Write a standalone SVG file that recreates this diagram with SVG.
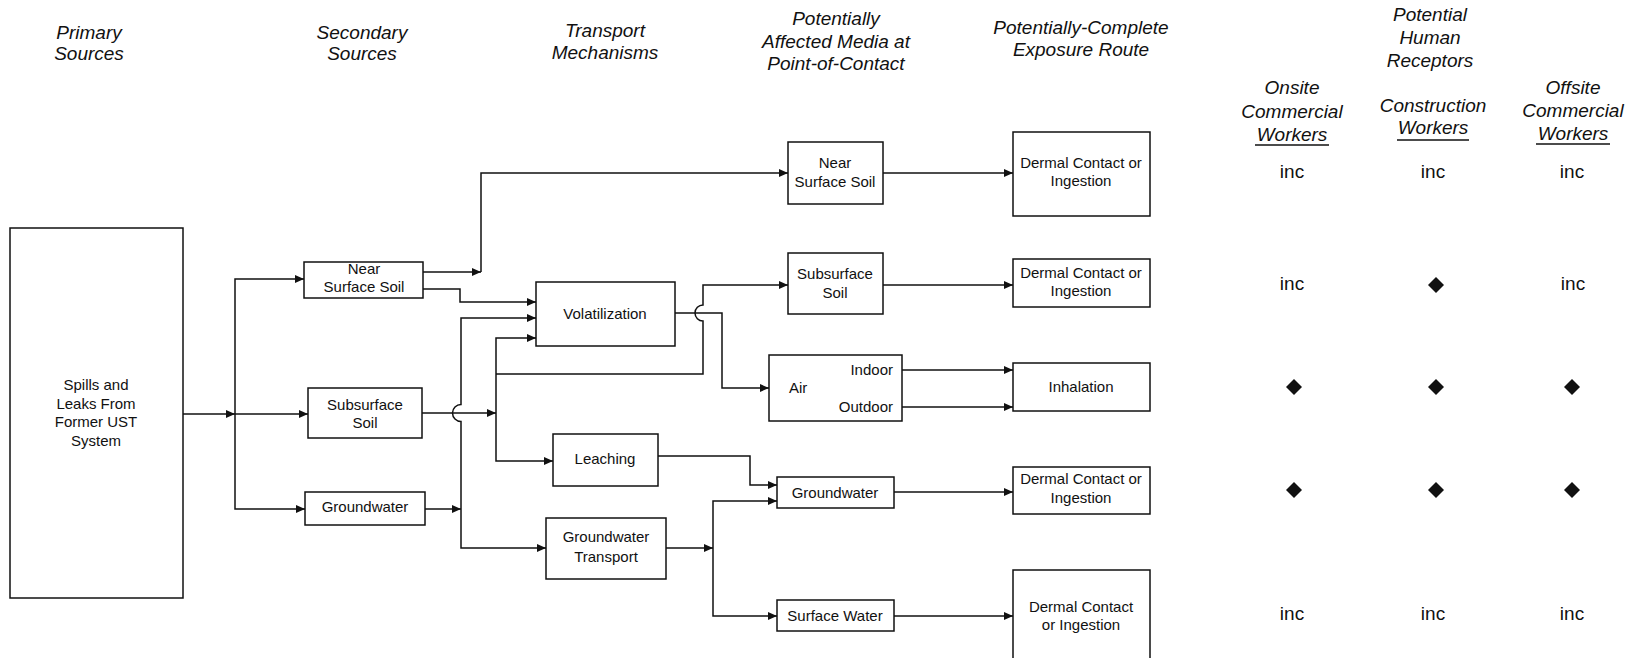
<svg xmlns="http://www.w3.org/2000/svg" xmlns:xlink="http://www.w3.org/1999/xlink" width="1631" height="658" viewBox="0 0 1631 658">
<defs>
<style>
.b{fill:#fff;stroke:#111;stroke-width:1.5}
.t{font-family:"Liberation Sans",Arial,sans-serif;font-size:15px;fill:#111;text-anchor:middle}
.h{font-family:"Liberation Sans",Arial,sans-serif;font-size:19px;font-style:italic;fill:#111;text-anchor:middle}
.i{font-family:"Liberation Sans",Arial,sans-serif;font-size:19px;fill:#111;text-anchor:middle}
.c{fill:none;stroke:#111;stroke-width:1.5}
.a{marker-end:url(#ar)}
.u{stroke:#111;stroke-width:1.3}
</style>
<marker id="ar" markerUnits="userSpaceOnUse" markerWidth="10" markerHeight="8" refX="9" refY="4" orient="auto">
<path d="M0,0 L9,4 L0,8 z" fill="#111"/>
</marker>
<polygon id="dm" points="0,-8 8,0 0,8 -8,0" fill="#111"/>
</defs>
<rect width="1631" height="658" fill="#fff"/>

<g id="headers">
<text class="h" x="89" y="39">Primary</text>
<text class="h" x="89" y="60">Sources</text>
<text class="h" x="362" y="39">Secondary</text>
<text class="h" x="362" y="60">Sources</text>
<text class="h" x="605" y="37">Transport</text>
<text class="h" x="605" y="59">Mechanisms</text>
<text class="h" x="836" y="25">Potentially</text>
<text class="h" x="836" y="48">Affected Media at</text>
<text class="h" x="836" y="70">Point-of-Contact</text>
<text class="h" x="1081" y="34">Potentially-Complete</text>
<text class="h" x="1081" y="56">Exposure Route</text>
<text class="h" x="1430" y="21">Potential</text>
<text class="h" x="1430" y="44">Human</text>
<text class="h" x="1430" y="67">Receptors</text>
<text class="h" x="1292" y="94">Onsite</text>
<text class="h" x="1292" y="118">Commercial</text>
<text class="h" x="1292" y="141">Workers</text>
<line class="u" x1="1255" y1="145" x2="1329" y2="145"/>
<text class="h" x="1433" y="112">Construction</text>
<text class="h" x="1433" y="134">Workers</text>
<line class="u" x1="1397" y1="140" x2="1469" y2="140"/>
<text class="h" x="1573" y="94">Offsite</text>
<text class="h" x="1573" y="117">Commercial</text>
<text class="h" x="1573" y="140">Workers</text>
<line class="u" x1="1536" y1="144" x2="1610" y2="144"/>
</g>

<g id="connectors" class="c">
<path class="a" d="M183,414 H235"/>
<path class="a" d="M235,414 H308"/>
<path class="a" d="M235,414 V279 H304"/>
<path class="a" d="M235,414 V509 H305"/>
<path class="a" d="M423,272 H481"/>
<path class="a" d="M481,272 V173 H788"/>
<path class="a" d="M423,289 H460 V302 H536"/>
<path class="a" d="M422,413 H496"/>
<path class="a" d="M425,509 H461"/>
<path class="a" d="M461,509 V421.5 A8.5,8.5 0 0 1 461,404.5 V318 H536"/>
<path class="a" d="M461,509 V548 H546"/>
<path class="a" d="M496,413 V338 H536"/>
<path class="a" d="M496,413 V461 H553"/>
<path class="a" d="M496,374 H703 V321 A8,8 0 0 1 703,305 V285 H788"/>
<path class="a" d="M675,313 H722 V388 H769"/>
<path class="a" d="M658,456 H750 V485 H777"/>
<path class="a" d="M666,548 H713"/>
<path class="a" d="M713,548 V501 H777"/>
<path class="a" d="M713,548 V616 H777"/>
<path class="a" d="M883,173 H1013"/>
<path class="a" d="M883,285 H1013"/>
<path class="a" d="M902,370 H1013"/>
<path class="a" d="M902,407 H1013"/>
<path class="a" d="M894,492 H1013"/>
<path class="a" d="M894,616 H1013"/>
</g>

<g id="primary">
<rect class="b" x="10" y="228" width="173" height="370"/>
<text class="t" x="96" y="390">Spills and</text>
<text class="t" x="96" y="409">Leaks From</text>
<text class="t" x="96" y="427">Former UST</text>
<text class="t" x="96" y="446">System</text>
</g>
<g id="sec-near-surface-soil">
<rect class="b" x="304" y="262" width="119" height="36"/>
<text class="t" x="364" y="274">Near</text>
<text class="t" x="364" y="292">Surface Soil</text>
</g>
<g id="sec-subsurface-soil">
<rect class="b" x="308" y="388" width="114" height="50"/>
<text class="t" x="365" y="410">Subsurface</text>
<text class="t" x="365" y="428">Soil</text>
</g>
<g id="sec-groundwater">
<rect class="b" x="305" y="492" width="120" height="33"/>
<text class="t" x="365" y="512">Groundwater</text>
</g>
<g id="volatilization">
<rect class="b" x="536" y="282" width="139" height="64"/>
<text class="t" x="605" y="319">Volatilization</text>
</g>
<g id="leaching">
<rect class="b" x="553" y="434" width="105" height="52"/>
<text class="t" x="605" y="464">Leaching</text>
</g>
<g id="groundwater-transport">
<rect class="b" x="546" y="518" width="120" height="61"/>
<text class="t" x="606" y="542">Groundwater</text>
<text class="t" x="606" y="562">Transport</text>
</g>
<g id="med-near-surface-soil">
<rect class="b" x="788" y="142" width="95" height="62"/>
<text class="t" x="835" y="168">Near</text>
<text class="t" x="835" y="187">Surface Soil</text>
</g>
<g id="med-subsurface-soil">
<rect class="b" x="788" y="253" width="95" height="61"/>
<text class="t" x="835" y="279">Subsurface</text>
<text class="t" x="835" y="298">Soil</text>
</g>
<g id="med-air">
<rect class="b" x="769" y="355" width="133" height="66"/>
<text class="t" x="893" y="375" style="text-anchor:end">Indoor</text>
<text class="t" x="789" y="393" style="text-anchor:start">Air</text>
<text class="t" x="893" y="412" style="text-anchor:end">Outdoor</text>
</g>
<g id="med-groundwater">
<rect class="b" x="777" y="477" width="117" height="31"/>
<text class="t" x="835" y="498">Groundwater</text>
</g>
<g id="med-surface-water">
<rect class="b" x="777" y="600" width="117" height="31"/>
<text class="t" x="835" y="621">Surface Water</text>
</g>
<g id="route-dermal-1">
<rect class="b" x="1013" y="132" width="137" height="84"/>
<text class="t" x="1081" y="168">Dermal Contact or</text>
<text class="t" x="1081" y="186">Ingestion</text>
</g>
<g id="route-dermal-2">
<rect class="b" x="1013" y="259" width="137" height="48"/>
<text class="t" x="1081" y="278">Dermal Contact or</text>
<text class="t" x="1081" y="296">Ingestion</text>
</g>
<g id="route-inhalation">
<rect class="b" x="1013" y="363" width="137" height="48"/>
<text class="t" x="1081" y="392">Inhalation</text>
</g>
<g id="route-dermal-4">
<rect class="b" x="1013" y="467" width="137" height="47"/>
<text class="t" x="1081" y="484">Dermal Contact or</text>
<text class="t" x="1081" y="503">Ingestion</text>
</g>
<g id="route-dermal-5">
<rect class="b" x="1013" y="570" width="137" height="100"/>
<text class="t" x="1081" y="612">Dermal Contact</text>
<text class="t" x="1081" y="630">or Ingestion</text>
</g>

<g id="receptors">
<text class="i" x="1292" y="178">inc</text>
<text class="i" x="1433" y="178">inc</text>
<text class="i" x="1572" y="178">inc</text>
<text class="i" x="1292" y="290">inc</text>
<use xlink:href="#dm" x="1436" y="285"/>
<text class="i" x="1573" y="290">inc</text>
<use xlink:href="#dm" x="1294" y="387"/>
<use xlink:href="#dm" x="1436" y="387"/>
<use xlink:href="#dm" x="1572" y="387"/>
<use xlink:href="#dm" x="1294" y="490"/>
<use xlink:href="#dm" x="1436" y="490"/>
<use xlink:href="#dm" x="1572" y="490"/>
<text class="i" x="1292" y="620">inc</text>
<text class="i" x="1433" y="620">inc</text>
<text class="i" x="1572" y="620">inc</text>
</g>
</svg>
